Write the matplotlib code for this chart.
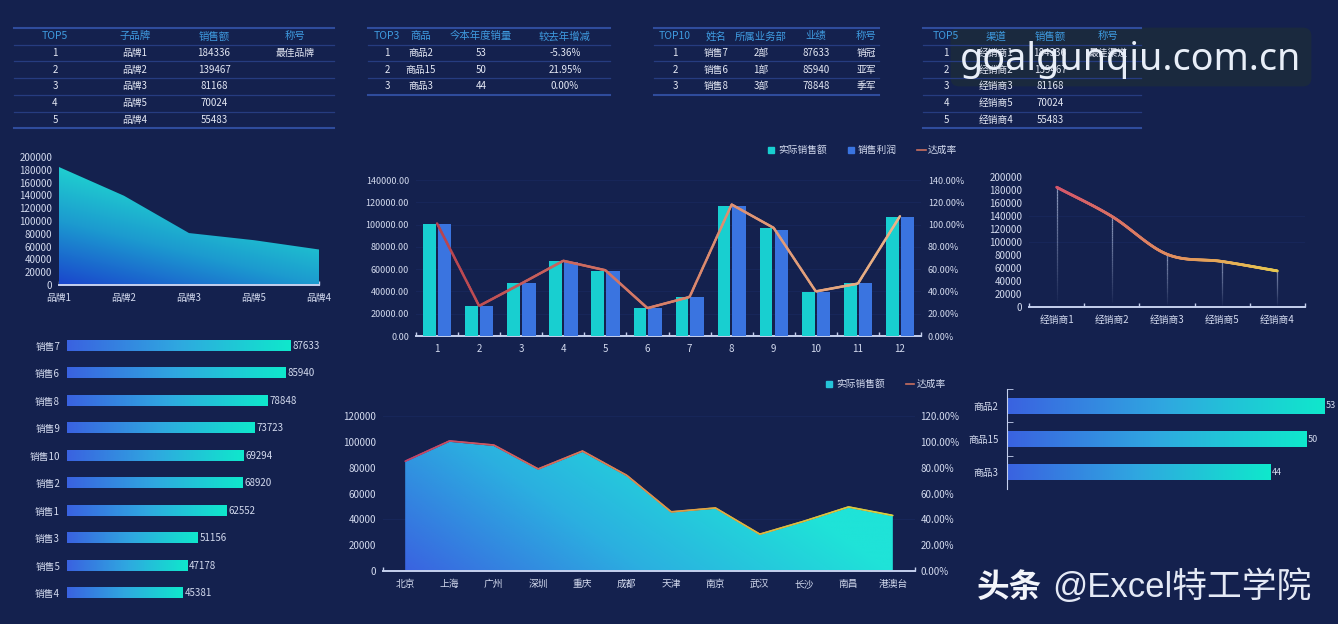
import numpy as np
import matplotlib
matplotlib.use("Agg")
import matplotlib.pyplot as plt
from matplotlib.collections import LineCollection
from matplotlib.colors import LinearSegmentedColormap, to_rgba
from matplotlib.patches import FancyBboxPatch, Rectangle

plt.rcParams['font.family'] = ['Noto Sans CJK SC', 'DejaVu Sans']

# table data
t1_head = ["TOP5", "子品牌", "销售额", "称号"]
t1_rows = [["1", "品牌1", "184336", "最佳品牌"], ["2", "品牌2", "139467", ""], ["3", "品牌3", "81168", ""],
           ["4", "品牌5", "70024", ""], ["5", "品牌4", "55483", ""]]
t2_head = ["TOP3", "商品", "今本年度销量", "较去年增减"]
t2_rows = [["1", "商品2", "53", "-5.36%"], ["2", "商品15", "50", "21.95%"], ["3", "商品3", "44", "0.00%"]]
t3_head = ["TOP10", "姓名", "所属业务部", "业绩", "称号"]
t3_rows = [["1", "销售7", "2部", "87633", "销冠"], ["2", "销售6", "1部", "85940", "亚军"],
           ["3", "销售8", "3部", "78848", "季军"]]
t4_head = ["TOP5", "渠道", "销售额", "称号"]
t4_rows = [["1", "经销商1", "184336", "最佳渠道"], ["2", "经销商2", "139467", ""], ["3", "经销商3", "81168", ""],
           ["4", "经销商5", "70024", ""], ["5", "经销商4", "55483", ""]]

# charts data
brands = ["品牌1", "品牌2", "品牌3", "品牌5", "品牌4"]
brand_sales = [184336, 139467, 81168, 70024, 55483]

months = ["1", "2", "3", "4", "5", "6", "7", "8", "9", "10", "11", "12"]
month_sales = [100400, 26500, 47700, 67000, 58000, 25000, 35000, 117000, 97000, 39600, 47700, 106600]
month_profit = [100400, 26500, 47700, 66500, 58000, 25000, 35000, 117000, 95500, 39600, 47700, 106600]
month_rate = [101, 27, 47, 67.5, 59, 25, 35, 118, 97, 40, 47, 107.5]

dealers = ["经销商1", "经销商2", "经销商3", "经销商5", "经销商4"]
dealer_sales = [184336, 139467, 81168, 70024, 55483]

sellers = ["销售7", "销售6", "销售8", "销售9", "销售10", "销售2", "销售1", "销售3", "销售5", "销售4"]
seller_sales = [87633, 85940, 78848, 73723, 69294, 68920, 62552, 51156, 47178, 45381]

cities = ["北京", "上海", "广州", "深圳", "重庆", "成都", "天津", "南京", "武汉", "长沙", "南昌", "港澳台"]
city_sales = [84500, 100000, 96800, 78500, 92200, 73400, 45300, 48200, 28000, 38000, 49000, 42500]
city_rate = [85, 100.7, 97.5, 79, 92.9, 74, 45.8, 48.8, 28.5, 38.6, 49.6, 43]

products = ["商品2", "商品15", "商品3"]
product_qty = [53, 50, 44]

W, H = 1338, 624
BG = "#14214e"
TXT = "#d3daee"
AXC = "#c5d0ee"
GRID = "#18275a"
TEAL = "#18cfd0"
BLUE = "#3a74e0"

bar_cmap = LinearSegmentedColormap.from_list("bar", ["#3a62e0", "#2fa8e0", "#0fe8cc"])
rate_cmap = LinearSegmentedColormap.from_list("rate", ["#b8434f", "#d9826a", "#eab487"])
city_cmap = LinearSegmentedColormap.from_list("cityline", ["#c0436a", "#d9705a", "#e0b040", "#d8d040"])
dealer_cmap = LinearSegmentedColormap.from_list("dealer", ["#d4566a", "#e08a60", "#e8c850"])
area1_cmap = LinearSegmentedColormap.from_list("a1", ["#1a45cc", "#1c9ad0", "#20d8cf"])
area2_cmap = LinearSegmentedColormap.from_list("a2", ["#3a63e0", "#2bb0e0", "#1fe3d8"])

fig = plt.figure(figsize=(W / 100, H / 100), dpi=100, facecolor=BG)


def make_ax(l, t, r, b):
    ax = fig.add_axes([l / W, 1 - b / H, (r - l) / W, (b - t) / H])
    ax.patch.set_alpha(0)
    for s in ax.spines.values():
        s.set_visible(False)
    return ax


def x_axis(ax, n, labels, edges=True, size=7):
    # ticks stand on the category edges, labels sit in the middle
    ax.spines['bottom'].set_visible(True)
    ax.spines['bottom'].set_color(AXC)
    ax.spines['bottom'].set_linewidth(1.4)
    if edges:
        ax.set_xticks(np.arange(n + 1) - 0.5)
        ax.set_xticklabels([])
        ax.set_xticks(np.arange(n), labels=labels, minor=True)
        ax.tick_params(axis='x', which='minor', length=0, labelsize=size, labelcolor=TXT, pad=6)
    else:
        ax.set_xticks(np.arange(n), labels=labels)
        ax.tick_params(axis='x', labelsize=size, labelcolor=TXT, pad=6)
    ax.tick_params(axis='x', which='major', direction='in', length=3, width=1, color=AXC)


def y_axis(ax, ticks, labels, size=6.5, grid=True, pad=5):
    ax.set_yticks(ticks, labels=labels)
    ax.tick_params(axis='y', length=0, labelsize=size, labelcolor=TXT, pad=pad)
    if grid:
        ax.set_axisbelow(True)
        ax.grid(axis='y', color=GRID, linewidth=0.7)


def gradient_area(ax, x, y, cmap, top, ku, kv):
    coll = ax.fill_between(x, y, 0, facecolor='none', edgecolor='none')
    u, v = np.meshgrid(np.linspace(0, 1, 200), np.linspace(0, 1, 200))
    im = ax.imshow(np.clip(ku * u + kv * v, 0, 1), cmap=cmap, vmin=0, vmax=1, origin='lower', aspect='auto',
                   extent=[x[0], x[-1], 0, top], zorder=2)
    im.set_clip_path(coll.get_paths()[0], ax.transData)


def gradient_line(ax, x, y, cmap, lw=1.8, smooth=False):
    x = np.asarray(x, dtype=float)
    y = np.asarray(y, dtype=float)
    xs = np.linspace(x[0], x[-1], 400)
    if smooth:
        # hermite curve through the points, same look as a smoothed line
        m = np.gradient(y, x)
        i = np.clip(np.searchsorted(x, xs, side='right') - 1, 0, len(x) - 2)
        h = x[i + 1] - x[i]
        s = (xs - x[i]) / h
        ys = (2 * s**3 - 3 * s**2 + 1) * y[i] + (s**3 - 2 * s**2 + s) * h * m[i] \
            + (-2 * s**3 + 3 * s**2) * y[i + 1] + (s**3 - s**2) * h * m[i + 1]
    else:
        ys = np.interp(xs, x, y)
    pts = np.column_stack([xs, ys])
    segs = np.stack([pts[:-1], pts[1:]], axis=1)
    lc = LineCollection(segs, cmap=cmap, linewidth=lw, zorder=5, capstyle='round')
    lc.set_array(np.linspace(0, 1, len(segs)))
    ax.add_collection(lc)


def gradient_barh(ax, labels, values, height, cmap):
    pos = np.arange(len(values))
    bars = ax.barh(pos, values, height=height, color='none')
    grad = np.linspace(0, 1, 256).reshape(1, -1)
    for b in bars:
        ax.imshow(grad, cmap=cmap, aspect='auto', zorder=2,
                  extent=[b.get_x(), b.get_x() + b.get_width(), b.get_y() + b.get_height(), b.get_y()])
    ax.set_yticks(pos, labels=labels)


def draw_table(ax, x0, x1, head, rows, cols):
    y0, rh = 28, 16.7
    n = len(rows) + 1
    for i in range(n + 1):
        edge = i in (0, n)
        yy = y0 + i * rh
        ax.plot([x0, x1], [yy, yy], color="#2f4c9c" if edge else "#263c80", lw=1.5 if edge else 0.9)
    for c, h in zip(cols, head):
        ax.text(c, y0 + rh / 2, h, color="#3f9be0", ha='center', va='center', fontsize=7.5, fontweight='medium')
    for r, row in enumerate(rows):
        for c, v in zip(cols, row):
            ax.text(c, y0 + (r + 1.5) * rh, v, color="#e4e8f4", ha='center', va='center', fontsize=7, fontweight='medium')


# ---- area chart, top left
ax1 = make_ax(59, 157, 319, 285)
gradient_area(ax1, np.arange(5), brand_sales, area1_cmap, 200000, 0.5, 1.0)
ax1.set_xlim(0, 4)
ax1.set_ylim(0, 200000)
x_axis(ax1, 5, brands, edges=False)
y_axis(ax1, np.arange(0, 200001, 20000), [str(v) for v in range(0, 200001, 20000)], size=7, grid=False)

# ---- months column + line
ax2 = make_ax(416, 180, 921, 336)
xm = np.arange(12)
ax2.bar(xm - 0.18, month_sales, width=0.3, color=TEAL, zorder=3)
ax2.bar(xm + 0.18, month_profit, width=0.32, color=BLUE, zorder=3)
ax2.set_xlim(-0.5, 11.5)
ax2.set_ylim(0, 140000)
x_axis(ax2, 12, months)
yt = np.arange(0, 140001, 20000)
y_axis(ax2, yt, [f"{v:.2f}" for v in yt])
ax2r = ax2.twinx()
for s in ax2r.spines.values():
    s.set_visible(False)
ax2r.patch.set_alpha(0)
gradient_line(ax2r, xm, month_rate, rate_cmap)
ax2r.set_ylim(0, 140)
y_axis(ax2r, np.arange(0, 141, 20), [f"{v:.2f}%" for v in range(0, 141, 20)], grid=False, pad=5)

# ---- dealer smooth line
ax3 = make_ax(1029, 177, 1305, 307)
xd = np.arange(5)
gradient_line(ax3, xd, dealer_sales, dealer_cmap, lw=2, smooth=True)
for xi, v in zip(xd, dealer_sales):
    ys = np.linspace(v * 0.05, v, 40)
    segs = np.stack([np.column_stack([np.full(39, xi), ys[:-1]]), np.column_stack([np.full(39, xi), ys[1:]])], axis=1)
    cols = [to_rgba("#b9c6e6", a) for a in np.linspace(0.05, 0.75, 39)]
    ax3.add_collection(LineCollection(segs, colors=cols, linewidth=0.9, zorder=3))
ax3.set_xlim(-0.5, 4.5)
ax3.set_ylim(0, 200000)
x_axis(ax3, 5, dealers)
y_axis(ax3, np.arange(0, 200001, 20000), [str(v) for v in range(0, 200001, 20000)], size=7, grid=False)
for yy in (100000, 140000):
    ax3.axhline(yy, color=GRID, lw=0.7, zorder=1)

# ---- seller bars
ax4 = make_ax(67, 332.3, 321.5, 606.7)
gradient_barh(ax4, sellers, seller_sales, 0.365, bar_cmap)
ax4.set_xlim(0, 100000)
ax4.set_ylim(9.5, -0.5)
ax4.set_xticks([])
ax4.tick_params(axis='y', length=0, labelsize=7, labelcolor=TXT, pad=5)
for i, v in enumerate(seller_sales):
    ax4.annotate(str(v), (v, i), xytext=(1.5, 0), textcoords='offset points', color=TXT, fontsize=7, va='center')

# ---- city area + line
ax5 = make_ax(383, 416, 915, 571)
xc = np.arange(12)
gradient_area(ax5, xc, city_sales, area2_cmap, 120000, 1.0, 0.45)
ax5.set_xlim(-0.5, 11.5)
ax5.set_ylim(0, 120000)
x_axis(ax5, 12, cities)
yt = np.arange(0, 120001, 20000)
y_axis(ax5, yt, [str(v) for v in yt], grid=False, size=7)
for yy in (40000, 120000):
    ax5.axhline(yy, color=GRID, lw=0.7, zorder=1)
ax5r = ax5.twinx()
for s in ax5r.spines.values():
    s.set_visible(False)
ax5r.patch.set_alpha(0)
gradient_line(ax5r, xc, city_rate, city_cmap, lw=1.2)
ax5r.set_ylim(0, 120)
y_axis(ax5r, np.arange(0, 121, 20), [f"{v:.2f}%" for v in range(0, 121, 20)], grid=False, size=7, pad=4)

# ---- product bars
ax6 = make_ax(1007, 389, 1336, 489)
gradient_barh(ax6, products, product_qty, 0.48, bar_cmap)
ax6.set_xlim(0, 55)
ax6.set_ylim(2.5, -0.5)
ax6.set_xticks([])
ax6.spines['left'].set_visible(True)
ax6.spines['left'].set_color(AXC)
ax6.set_yticks(np.arange(3) - 0.5, minor=True)
ax6.tick_params(axis='y', which='major', length=0, labelsize=7, labelcolor=TXT, pad=6)
ax6.tick_params(axis='y', which='minor', direction='in', length=4, color=AXC)
for i, v in enumerate(product_qty):
    ax6.annotate(str(v), (v, i), xytext=(1.5, 0), textcoords='offset points', color=TXT, fontsize=6.5, va='center')

# ---- overlay in pixel coordinates: tables, legends, watermark
top = fig.add_axes([0, 0, 1, 1], zorder=20)
top.set_xlim(0, W)
top.set_ylim(H, 0)
top.axis('off')

draw_table(top, 14, 334, t1_head, t1_rows, [55, 135, 214, 295])
draw_table(top, 368, 610, t2_head, t2_rows, [387, 421, 481, 565])
draw_table(top, 654, 879, t3_head, t3_rows, [675, 716, 761, 816, 866])
draw_table(top, 923, 1141, t4_head, t4_rows, [946, 996, 1050, 1108])

LEG = dict(color=TXT, fontsize=7, va='center')
top.add_patch(Rectangle((768, 147), 6, 6, color=TEAL))
top.text(778, 150, "实际销售额", **LEG)
top.add_patch(Rectangle((848, 147), 6, 6, color=BLUE))
top.text(858, 150, "销售利润", **LEG)
top.plot([917, 926], [150, 150], color="#c9705f", lw=1.2)
top.text(928, 150, "达成率", **LEG)
top.add_patch(Rectangle((826, 381), 6, 6, color="#25c4d8"))
top.text(836, 384, "实际销售额", **LEG)
top.plot([906, 914], [384, 384], color="#c9705f", lw=1.2)
top.text(917, 384, "达成率", **LEG)

top.add_patch(FancyBboxPatch((952, 29), 358, 56, boxstyle="round,pad=0,rounding_size=7",
                             mutation_aspect=1, linewidth=2, edgecolor="#1b2a3e", facecolor="#1b2a3e", alpha=0.95))
top.text(1130, 60, "goalgunqiu.com.cn", color="#e8eef8", fontsize=27.2, ha='center', va='center', family='Noto Sans')

top.text(977, 587, "头条", color="#f2f4fa", fontsize=23.5, fontweight='bold', va='center')
top.text(1052, 587, "@Excel特工学院", color="#e4e9f5", fontsize=25, va='center',
         family=['Liberation Sans', 'Noto Sans CJK SC'])

fig.savefig("out.png", dpi=100, facecolor=BG)
